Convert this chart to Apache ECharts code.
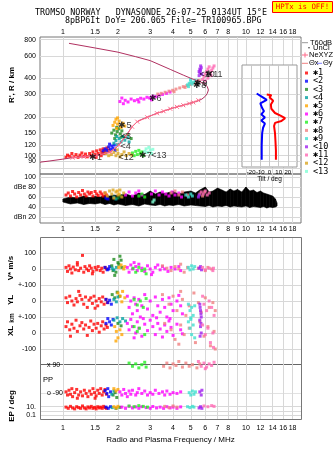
<!DOCTYPE html>
<html>
<head>
<meta charset="utf-8">
<script src="https://cdn.jsdelivr.net/npm/echarts@6/dist/echarts.min.js"></script>
<style>html,body{margin:0;padding:0;background:#fff}#chart{width:335px;height:451px}</style>
</head>
<body>
<div id="chart"></div>
<script>
const lg = Math.log10;

// axis ticks
const FREQ_LABELS = [1, 1.5, 2, 3, 4, 5, 6, 7, 8, 10, 12, 14, 16, 18];
const FREQ_LABELS_MID = [1, 1.5, 2, 3, 4, 5, 6, 7, 8, 9, 10, 12, 14, 16, 18];
const HEIGHT_TICKS = [80, 90, 100, 120, 150, 200, 300, 400, 600, 800];
const AMP_TICKS = [20, 40, 60, 80, 100];
const AMP_LABELS = ['dBn 20', '40', '60', 'dBe 80', '100'];
const DRIFT_TICKS = [-100, 0, 100, 200, 300, 400, 500];
const DRIFT_LABELS = ['-100', '0', '+-100', '0', '+-100', '0', '100'];
const TILT_TICKS = [-20, -10, 0, 10, 20];

// echo clusters
const NAMES = ['✱1', '<2', '<3', '<4', '✱5', '✱6', '✱7', '✱8', '✱9', '<10', '✱11', '<12', '<13'];
const COLORS = ['#ff0000', '#0000ff', '#1e8b1e', '#00a0a0', '#ffa500', '#ff00ff', '#22ee22',
  '#f08080', '#40e0d0', '#a020f0', '#ff69b4', '#daa520', '#7fffd4'];

// model trace (MHz, km) and NeXYZ profile
const modelTrace = [[0.75,89],[0.85,91],[1.0,94],[1.13,96.5],[1.3,98],[1.5,100],[1.7,104],[1.82,107],[1.95,115],
  [2.02,121],[2.1,130],[2.2,141],[2.3,155],[2.39,168],[2.55,184],[2.7,192],[2.89,199],[3.1,208],[3.27,214],
  [3.55,222],[3.86,232],[4.2,240],[4.55,247],[4.9,255],[5.16,260],[5.5,268],[5.75,276],[6.0,290],[6.15,305],
  [6.24,325],[6.15,345],[6.0,358],[5.8,368],[5.6,378],[5.16,393],[4.55,424],[3.86,470],[3.0,550],[2.5,590],
  [2.0,640],[1.5,690],[1.08,750]];
const neXYZ = [[1.13,96.5],[1.3,98],[1.51,99.5],[1.82,107],[2.02,121],[2.2,141],[2.39,168],[2.55,184],[2.89,199],
  [3.27,214],[3.55,222],[3.86,232],[4.2,240],[4.55,247],[4.9,255],[5.16,260],[5.5,270]];

// tilt inset [deg, km]
const thetaX = [[-3,300],[2,296],[0,285],[4,268],[1.5,250],[2,232],[6,215],[12,205],[17,196],[13,186],[6,180],
  [5,170],[6,150],[6.5,130],[7,110],[7,93]];
const thetaY = [[-14,305],[-9,290],[-3,272],[-10,255],[-8,235],[-6,222],[-9,210],[-5,198],[-9,188],[-5,178],
  [-7,165],[-8,150],[-8.5,120],[-8.5,93]];

// noise band (dB)
const noiseFreq = [1.0,1.1,1.2,1.3,1.4,1.5,1.6,1.7,1.8,1.9,2.0,2.2,2.4,2.6,2.8,3.0,3.2,3.4,3.6,3.8,4.0,4.3,4.6,5.0,
  5.3,5.6,6.0,6.3,6.6,7.0,7.4,7.8,8.2,8.6,9.0,9.5,10,10.5,11,11.5,12,12.5,13,13.5,14,14.5,14.8];
const noiseLow = [50,46,48,45,47,46,48,45,47,44,46,43,45,42,46,44,43,45,42,44,43,45,42,44,43,42,41,43,40,42,41,43,
  40,42,41,40,42,39,41,40,39,41,38,40,39,40,42];
const noiseHigh = [56,60,58,62,59,61,60,63,62,64,63,66,62,68,65,72,66,70,67,69,71,66,70,72,68,74,80,70,72,78,74,70,
  76,72,75,70,80,72,74,69,72,68,66,64,62,56,48];

// [MHz, km, cluster]
const heightPts = [
  [1.04,97,1],[1.06,101,1],[1.09,99,1],[1.12,104,1],[1.15,98,1],[1.18,102,1],[1.21,97,1],[1.24,101,1],[1.27,105,1],
  [1.3,99,1],[1.33,103,1],[1.36,98,1],[1.4,104,1],[1.43,100,1],[1.46,107,1],[1.5,102,1],[1.53,109,1],[1.56,104,1],
  [1.6,111,1],[1.63,106,1],[1.66,113,1],[1.7,108,1],[1.74,115,1],[1.78,110,1],[1.52,97,1],[1.62,100,1],[1.68,104,1],
  [1.66,109,2],[1.7,113,2],[1.74,110,2],[1.78,117,2],[1.82,112,2],[1.85,119,2],[1.88,114,2],[1.91,121,2],[1.8,123,2],[1.93,110,2],
  [1.85,150,3],[1.9,158,3],[1.94,145,3],[1.98,154,3],[2.02,162,3],[2.06,148,3],[2.1,156,3],[2.16,141,3],[2.25,146,3],
  [2.36,136,3],[1.97,166,3],[2.08,139,3],[1.92,136,3],
  [1.9,125,4],[1.95,131,4],[1.99,122,4],[2.03,136,4],[2.08,128,4],[2.13,141,4],[2.18,132,4],[2.26,138,4],[1.97,141,4],[2.3,128,4],
  [1.88,172,5],[1.92,182,5],[1.95,192,5],[1.99,176,5],[2.03,186,5],[2.08,166,5],[2.13,179,5],[1.99,197,5],[1.97,163,5],[2.18,170,5],
  [2.05,264,6],[2.1,281,6],[2.14,254,6],[2.19,270,6],[2.27,262,6],[2.36,276,6],[2.46,268,6],[2.56,273,6],[2.66,280,6],
  [2.77,276,6],[2.88,285,6],[2.98,281,6],[3.1,290,6],[3.22,288,6],[3.35,296,6],[3.5,300,6],[3.68,306,6],[3.85,313,6],
  [2.6,262,6],[3.05,272,6],
  [2.4,105,7],[2.45,100,7],[2.5,108,7],[2.55,102,7],[2.6,110,7],[2.65,104,7],[2.7,107,7],[2.75,100,7],
  [3.3,302,8],[3.45,306,8],[3.62,312,8],[3.8,318,8],[3.98,323,8],[4.15,330,8],[4.35,337,8],[4.55,345,8],[4.75,351,8],
  [4.95,358,8],[5.15,366,8],[5.35,374,8],[5.55,385,8],[4.05,315,8],[4.65,340,8],
  [4.8,356,9],[4.9,366,9],[5.0,376,9],[5.08,361,9],[5.18,372,9],[5.28,386,9],[4.98,392,9],[4.86,345,9],
  [5.55,420,10],[5.6,442,10],[5.65,462,10],[5.7,484,10],[5.6,472,10],[5.55,452,10],[5.74,432,10],[5.66,500,10],
  [5.8,392,11],[5.9,412,11],[6.0,432,11],[6.1,452,11],[6.2,472,11],[6.3,492,11],[6.4,442,11],[6.5,462,11],
  [6.6,482,11],[6.2,402,11],[6.0,382,11],[6.7,500,11],[6.45,420,11],
  [1.72,104,12],[1.78,100,12],[1.84,102,12],[1.9,106,12],[1.95,100,12],[2.0,104,12],[2.05,98,12],[2.1,102,12],
  [2.16,107,12],[2.22,100,12],[2.3,104,12],[2.38,101,12],[1.98,111,12],
  [2.8,108,13],[2.85,113,13],[2.9,106,13],[2.95,116,13],[3.0,110,13],[3.05,104,13],[3.1,112,13]
];

// [MHz, dB, cluster]
const ampPts = [
  [1.04,64,1],[1.07,68,1],[1.1,62,1],[1.13,71,1],[1.16,66,1],[1.19,60,1],[1.22,69,1],[1.25,64,1],[1.28,73,1],
  [1.31,66,1],[1.34,62,1],[1.37,70,1],[1.4,66,1],[1.43,69,1],[1.46,62,1],[1.5,71,1],[1.53,66,1],[1.56,63,1],
  [1.6,70,1],[1.63,66,1],[1.66,62,1],[1.7,68,1],[1.73,64,1],
  [1.72,58,2],[1.76,56,2],
  [2.0,58,3],[2.06,62,3],
  [1.95,56,4],[1.9,60,4],
  [1.98,72,5],[2.03,66,5],
  [2.2,64,6],[2.3,70,6],[2.4,62,6],[2.5,68,6],[2.6,72,6],[2.7,64,6],[3.05,66,6],[3.2,72,6],[3.35,64,6],[3.5,70,6],
  [3.65,66,6],[3.8,62,6],[3.95,70,6],[4.1,64,6],[4.3,68,6],[4.45,60,6],
  [2.6,62,7],[2.7,66,7],[2.8,60,7],
  [3.9,68,8],[4.1,72,8],[4.3,64,8],[4.5,70,8],[4.8,64,8],[5.6,66,8],[5.8,62,8],[5.95,70,8],
  [4.7,64,9],[4.85,60,9],[5.0,66,9],[5.1,62,9],
  [5.5,60,10],[5.55,64,10],
  [5.7,70,11],[5.85,66,11],[6.0,72,11],[6.15,64,11],[6.3,68,11],
  [1.7,68,12],[1.75,62,12],[1.8,72,12],[1.85,66,12],[1.9,58,12],[1.95,70,12],[2.0,64,12],[2.05,74,12],[2.1,60,12],
  [2.15,68,12],[1.88,74,12],
  [3.1,50,13],[3.15,54,13]
];

// [MHz, m/s, cluster]
const vstarPts = [
  [1.04,10,1],[1.06,-15,1],[1.08,20,1],[1.1,0,1],[1.12,-25,1],[1.14,12,1],[1.17,-5,1],[1.2,25,1],[1.22,-10,1],
  [1.25,5,1],[1.28,85,1],[1.3,-20,1],[1.32,15,1],[1.35,0,1],[1.38,-10,1],[1.4,20,1],[1.43,5,1],[1.46,-15,1],
  [1.5,10,1],[1.53,-5,1],[1.56,15,1],[1.6,-10,1],[1.63,5,1],[1.66,-20,1],[1.7,10,1],[1.73,0,1],[1.2,40,1],[1.45,-30,1],
  [1.7,10,2],[1.75,-5,2],[1.8,15,2],[1.78,0,2],
  [1.85,20,3],[1.9,60,3],[1.95,-20,3],[2.0,40,3],[2.05,80,3],[2.1,10,3],[1.92,-40,3],[2.02,30,3],[2.08,55,3],[1.88,-10,3],
  [1.86,5,4],[1.9,-5,4],[1.96,10,4],
  [2.02,10,5],[2.08,25,5],[2.15,0,5],[2.18,15,5],
  [2.25,10,6],[2.3,-20,6],[2.35,25,6],[2.4,0,6],[2.5,15,6],[2.55,-10,6],[2.6,30,6],[2.7,5,6],[2.8,-15,6],[2.9,20,6],
  [3.0,0,6],[3.1,-20,6],[3.2,10,6],[3.3,25,6],[3.4,-5,6],[3.5,15,6],[3.6,0,6],[3.75,-15,6],[3.9,10,6],[4.1,0,6],
  [4.3,15,6],[4.4,-10,6],[2.45,40,6],[3.05,-35,6],
  [2.42,5,7],[2.5,-20,7],[2.6,10,7],[2.7,-10,7],[2.8,0,7],[2.85,-30,7],
  [3.5,20,8],[3.7,5,8],[3.9,-10,8],[4.1,15,8],[4.3,0,8],[4.6,-20,8],[4.8,10,8],[5.5,5,8],[6.0,-10,8],[6.2,10,8],
  [6.5,0,8],[4.4,30,8],
  [4.85,10,9],[4.95,-5,9],[5.05,20,9],[5.15,0,9],[5.25,15,9],
  [5.55,5,10],[5.65,15,10],[5.72,-5,10],
  [5.8,10,11],[6.0,-5,11],[6.3,5,11],[6.6,-10,11],[6.65,5,11]
];

// [MHz, km, cluster]
const ylPts = [
  [1.04,20,1],[1.06,-10,1],[1.09,30,1],[1.12,0,1],[1.15,-25,1],[1.18,15,1],[1.2,-5,1],[1.24,35,1],[1.27,10,1],
  [1.3,-20,1],[1.33,25,1],[1.36,-40,1],[1.39,5,1],[1.42,20,1],[1.45,-15,1],[1.48,30,1],[1.52,0,1],[1.55,-30,1],
  [1.58,15,1],[1.62,-5,1],[1.65,25,1],[1.68,-20,1],[1.72,10,1],[1.75,-10,1],[1.22,60,1],[1.5,-45,1],
  [1.72,10,2],[1.76,-10,2],[1.8,5,2],[1.84,-20,2],
  [1.86,40,3],[1.92,20,3],[1.98,55,3],[2.04,30,3],
  [1.9,10,4],[1.96,-5,4],[2.0,25,4],
  [2.0,50,5],[2.06,30,5],[2.12,60,5],[2.18,20,5],[2.1,-5,5],
  [2.25,30,6],[2.3,-40,6],[2.35,0,6],[2.4,-80,6],[2.45,20,6],[2.5,-20,6],[2.55,-60,6],[2.6,10,6],[2.65,-100,6],
  [2.7,-30,6],[2.8,40,6],[2.9,-50,6],[3.0,0,6],[3.1,-90,6],[3.2,25,6],[3.3,-30,6],[3.4,-70,6],[3.5,10,6],
  [3.6,-40,6],[3.7,-100,6],[3.8,20,6],[3.9,-20,6],[4.0,-60,6],[4.2,0,6],[4.4,-30,6],[4.5,-80,6],[4.3,35,6],
  [2.75,-110,6],[3.25,-105,6],[3.85,-110,6],
  [2.45,10,7],[2.55,-25,7],[2.65,0,7],[2.75,-40,7],[2.85,15,7],
  [3.5,40,8],[3.8,-20,8],[4.0,30,8],[4.2,-60,8],[4.5,10,8],[4.7,-90,8],[4.9,-30,8],[5.2,50,8],[5.5,-10,8],
  [5.7,-70,8],[6.0,20,8],[6.3,-40,8],[6.6,-10,8],[6.8,-60,8],[4.4,60,8],
  [4.85,-20,9],[4.95,-60,9],[5.05,-40,9],[5.15,-90,9],[5.25,-30,9],[5.0,-105,9],
  [5.6,-20,10],[5.65,-60,10],[5.7,-100,10],[5.62,-40,10],[5.68,-80,10],
  [5.8,30,11],[5.9,-20,11],[6.1,-60,11],[6.3,0,11],[6.5,-40,11],[6.7,-90,11]
];

// [MHz, km, cluster]
const xlPts = [
  [1.04,40,1],[1.06,70,1],[1.09,20,1],[1.12,55,1],[1.15,30,1],[1.18,80,1],[1.2,10,1],[1.24,45,1],[1.27,65,1],
  [1.3,25,1],[1.33,50,1],[1.36,-15,1],[1.39,35,1],[1.42,75,1],[1.45,15,1],[1.48,55,1],[1.52,30,1],[1.55,60,1],
  [1.58,5,1],[1.62,45,1],[1.65,70,1],[1.68,25,1],[1.72,50,1],[1.75,35,1],[1.1,-20,1],
  [1.72,60,2],[1.76,90,2],[1.8,70,2],[1.84,50,2],[1.88,85,2],
  [2.0,60,3],[2.08,45,3],
  [1.9,80,4],[1.98,95,4],[2.05,70,4],[2.12,90,4],[2.2,75,4],
  [1.92,40,5],[1.96,10,5],[2.0,-30,5],[2.05,20,5],[2.1,-10,5],[1.95,-50,5],
  [2.25,60,6],[2.3,20,6],[2.35,85,6],[2.4,40,6],[2.5,0,6],[2.55,70,6],[2.6,30,6],[2.7,-20,6],[2.8,55,6],[2.9,15,6],
  [3.0,80,6],[3.1,40,6],[3.2,-10,6],[3.3,60,6],[3.4,25,6],[3.5,-25,6],[3.6,50,6],[3.7,10,6],[3.8,75,6],[3.9,35,6],
  [4.0,-15,6],[4.2,55,6],[4.4,20,6],[4.5,-5,6],[2.45,-30,6],
  [2.45,40,7],[2.55,10,7],[2.62,30,7],[2.8,-10,7],
  [3.6,60,8],[3.9,20,8],[4.1,-40,8],[4.4,50,8],[4.6,-10,8],[4.9,30,8],[5.3,-60,8],[5.6,70,8],[5.9,-20,8],
  [6.2,40,8],[6.4,-80,8],[6.7,10,8],[6.8,-100,8],[4.3,-70,8],
  [4.85,70,9],[4.95,30,9],[5.05,-10,9],[5.15,50,9],[5.25,-30,9],[5.0,85,9],
  [5.6,80,10],[5.65,40,10],[5.7,0,10],[5.62,-20,10],[5.68,60,10],
  [5.8,50,11],[6.0,-10,11],[6.2,30,11],[6.4,-60,11],[6.6,0,11],[6.65,-90,11]
];

// [MHz, deg, cluster]
const ppPts = [
  [1.04,-80,1],[1.06,-100,1],[1.08,-70,1],[1.1,-95,1],[1.13,-110,1],[1.16,-85,1],[1.19,-65,1],[1.22,-100,1],
  [1.25,-80,1],[1.28,-105,1],[1.31,-70,1],[1.34,-90,1],[1.37,-110,1],[1.4,-75,1],[1.43,-95,1],[1.46,-60,1],
  [1.49,-85,1],[1.52,-105,1],[1.55,-70,1],[1.58,-90,1],[1.61,-60,1],[1.64,-100,1],[1.67,-80,1],[1.7,-65,1],
  [1.73,-95,1],[1.2,-120,1],[1.5,-120,1],[1.12,-60,1],
  [1.7,-72,2],[1.74,-90,2],[1.78,-110,2],[1.82,-80,2],[1.76,-60,2],
  [1.88,-100,3],[1.93,-85,3],[1.97,-115,3],
  [1.85,-95,4],[1.9,-75,4],
  [1.9,-60,5],[1.95,-75,5],[2.0,-65,5],
  [2.05,-80,6],[2.1,-100,6],[2.15,-65,6],[2.2,-90,6],[2.25,-110,6],[2.3,-75,6],[2.35,-95,6],[2.4,-70,6],
  [2.5,-100,6],[2.55,-85,6],[2.6,-60,6],[2.7,-90,6],[2.8,-75,6],[2.9,-100,6],[3.0,-85,6],[3.1,-95,6],[3.2,-70,6],
  [3.35,-90,6],[3.5,-80,6],[3.6,-100,6],[3.7,-75,6],[3.85,-95,6],[4.0,-85,6],[4.2,-90,6],[4.4,-80,6],
  [2.3,100,7],[2.4,80,7],[2.5,95,7],[2.6,70,7],[2.7,90,7],[2.8,105,7],[2.85,75,7],
  [3.55,80,8],[3.7,100,8],[3.85,70,8],[4.0,95,8],[4.15,85,8],[4.3,110,8],[4.5,75,8],[4.7,100,8],[4.9,80,8],
  [5.1,90,8],[5.4,70,8],[5.6,95,8],
  [4.9,-85,9],[5.0,-100,9],[5.1,-75,9],[5.2,-95,9],[5.3,-80,9],
  [5.6,-80,10],[5.7,-100,10],[5.75,-70,10],
  [5.5,110,11],[5.7,80,11],[5.9,100,11],[6.1,75,11],[6.3,95,11],[6.5,85,11],[6.7,105,11],[6.0,65,11]
];

// [MHz, deg, cluster]
const epPts = [
  [1.04,8,1],[1.07,4,1],[1.1,12,1],[1.13,5,1],[1.16,3,1],[1.19,10,1],[1.22,6,1],[1.25,4,1],[1.28,15,1],[1.31,5,1],
  [1.34,3,1],[1.37,9,1],[1.4,5,1],[1.43,12,1],[1.46,4,1],[1.49,7,1],[1.52,3,1],[1.55,10,1],[1.58,5,1],[1.61,8,1],
  [1.64,4,1],[1.67,12,1],[1.7,6,1],[1.73,4,1],
  [1.72,8,2],[1.77,4,2],[1.82,10,2],
  [1.95,4,3],[2.05,7,3],
  [1.86,6,4],
  [1.9,10,5],[1.96,5,5],[2.0,12,5],
  [2.1,8,6],[2.2,4,6],[2.3,12,6],[2.4,5,6],[2.5,9,6],[2.6,4,6],[2.7,10,6],[2.85,6,6],[3.0,4,6],[3.1,11,6],
  [3.25,5,6],[3.4,8,6],[3.55,4,6],[3.7,10,6],[3.85,5,6],[4.0,8,6],[4.2,4,6],[4.4,9,6],
  [2.3,15,7],[2.45,10,7],[2.6,18,7],[2.75,12,7],[2.9,8,7],
  [3.6,12,8],[3.8,6,8],[4.0,15,8],[4.2,8,8],
  [4.8,10,9],[4.95,6,9],[5.1,12,9],[5.2,8,9],
  [5.55,5,10],[5.65,10,10],[5.75,4,10],
  [5.9,15,11],[6.2,10,11],[6.5,18,11],[6.7,12,11]
];

// cluster tags drawn in the height panel [text, MHz, km]
const clusterTags = [['✱1',1.38,96],['<12',2.0,97],['<4',2.05,118],['<3',2.06,141],['✱5',2.0,171],['✱6',2.92,281],
  ['✱7',2.58,100],['<13',3.02,100],['✱8',5.12,352],['✱9',5.2,364],['<10',5.55,428],['✱11',5.95,428]];

const GRID_C = '#d8d8d8';
const FRAME_C = '#777';
const FONT = 'Liberation Sans';

const chart = echarts.init(document.getElementById('chart'), null, { renderer: 'canvas' });

function fmtFreq(v) { return String(Math.round(Math.pow(10, v) * 10) / 10); }

function freqAxis(gi, extra) {
  return Object.assign({
    type: 'value', gridIndex: gi, min: lg(0.75), max: lg(20),
    axisLine: { show: false },
    axisTick: { show: false, customValues: FREQ_LABELS_MID.map(lg) },
    splitLine: { show: true, lineStyle: { color: GRID_C, width: 1 } },
    axisLabel: { show: false }
  }, extra || {});
}
function freqLabels(list, margin) {
  return { show: true, customValues: list.map(lg), formatter: fmtFreq, fontSize: 7, color: '#000', margin: margin };
}
function yAxisBase(gi, min, max, ticks, extra) {
  return Object.assign({
    type: 'value', gridIndex: gi, min: min, max: max,
    axisLine: { show: false },
    axisTick: { show: false, customValues: ticks },
    splitLine: { show: true, lineStyle: { color: GRID_C, width: 1 } }
  }, extra || {});
}

const xAxes = [
  freqAxis(0, { position: 'top', axisLabel: freqLabels(FREQ_LABELS, 1) }),
  freqAxis(1, { axisLabel: freqLabels(FREQ_LABELS_MID, 3) }),
  freqAxis(2),
  freqAxis(3),
  freqAxis(4, { axisLabel: freqLabels(FREQ_LABELS, 6), name: 'Radio and Plasma Frequency / MHz',
    nameLocation: 'middle', nameGap: 17, nameTextStyle: { fontSize: 8, color: '#000' } }),
  { type: 'value', gridIndex: 5, min: -30, max: 30, z: 4,
    axisLine: { show: false }, axisTick: { show: false, customValues: TILT_TICKS },
    splitLine: { lineStyle: { color: '#c8c8c8' } },
    axisLabel: { customValues: TILT_TICKS, fontSize: 6, margin: 2, color: '#000' },
    name: 'Tilt / deg', nameLocation: 'middle', nameGap: 9, nameTextStyle: { fontSize: 6.5, color: '#000' } }
];

const yAxes = [
  yAxisBase(0, lg(72), lg(840), HEIGHT_TICKS.map(lg), {
    axisLabel: { customValues: HEIGHT_TICKS.map(lg), formatter: v => String(Math.round(Math.pow(10, v))),
      fontSize: 7, color: '#000', margin: 4 } }),
  yAxisBase(1, 8, 106, AMP_TICKS, {
    axisLabel: { customValues: AMP_TICKS, formatter: v => AMP_LABELS[AMP_TICKS.indexOf(v)],
      fontSize: 7, color: '#000', margin: 4 } }),
  yAxisBase(2, -150, 600, DRIFT_TICKS, {
    axisLabel: { customValues: DRIFT_TICKS, formatter: v => DRIFT_LABELS[DRIFT_TICKS.indexOf(v)],
      fontSize: 7, color: '#000', margin: 4 } }),
  yAxisBase(3, -131, 138, [-90, 90], {
    splitLine: { show: true, lineStyle: { color: ['#e2e2e2', '#666'], width: 1 } },
    axisLabel: { inside: true, customValues: [-90, 90], formatter: v => (v > 0 ? 'x 90' : 'o -90'),
      fontSize: 7, color: '#000', margin: 7 } }),
  yAxisBase(4, -1.964, 2.614, [-1, 0, 1], {
    axisLabel: { customValues: [-1, 1], formatter: v => (v > 0 ? '10.' : '0.1'), fontSize: 7, color: '#000', margin: 4 } }),
  yAxisBase(5, 1.912, 2.706, HEIGHT_TICKS.map(lg), { z: 4, axisLabel: { show: false },
    splitLine: { lineStyle: { color: GRID_C } } })
];

const series = [];

// noise floor band: black polygon between the low and high noise levels
series.push({
  name: 'noise', type: 'custom', xAxisIndex: 1, yAxisIndex: 1, z: 1, silent: true,
  data: noiseFreq.slice(1).map((f, i) => [lg(noiseFreq[i]), noiseLow[i], noiseHigh[i], lg(f), noiseLow[i + 1], noiseHigh[i + 1]]),
  encode: { x: [0, 3], y: [1, 2, 4, 5] },
  renderItem: function (params, api) {
    const a = api.coord([api.value(0), api.value(2)]);
    const b = api.coord([api.value(3), api.value(5)]);
    const c = api.coord([api.value(3), api.value(4)]);
    const d = api.coord([api.value(0), api.value(1)]);
    return { type: 'polygon', shape: { points: [a, b, c, d] }, style: { fill: '#000', stroke: '#000', lineWidth: 0.6 } };
  }
});

const panels = [
  { pts: heightPts, ax: 0, y: v => lg(v) },
  { pts: ampPts, ax: 1, y: v => v },
  { pts: vstarPts, ax: 2, y: v => v + 400 },
  { pts: ylPts, ax: 2, y: v => v + 200 },
  { pts: xlPts, ax: 2, y: v => v },
  { pts: ppPts, ax: 3, y: v => v },
  { pts: epPts, ax: 4, y: v => lg(v) }
];
panels.forEach(function (p) {
  NAMES.forEach(function (name, i) {
    const d = p.pts.filter(r => r[2] === i + 1).map(r => [lg(r[0]), p.y(r[1])]);
    if (!d.length) return;
    series.push({ name: name, type: 'scatter', xAxisIndex: p.ax, yAxisIndex: p.ax, symbol: 'rect',
      symbolSize: 3, itemStyle: { color: COLORS[i] }, data: d, z: 3, silent: true });
  });
});

series.push({ name: 'trace', type: 'line', xAxisIndex: 0, yAxisIndex: 0, symbol: 'none',
  lineStyle: { color: '#b03060', width: 1 }, data: modelTrace.map(r => [lg(r[0]), lg(r[1])]), z: 4, silent: true });
series.push({ name: 'NeXYZ', type: 'line', xAxisIndex: 0, yAxisIndex: 0, symbol: 'path://M0,0L4,4M4,0L0,4',
  symbolSize: 4, itemStyle: { color: 'none', borderColor: '#ff6a8a', borderWidth: 1 },
  lineStyle: { color: '#ff6a8a', width: 1 }, data: neXYZ.map(r => [lg(r[0]), lg(r[1])]), z: 5, silent: true });
series.push({ name: 'tags', type: 'scatter', xAxisIndex: 0, yAxisIndex: 0, symbolSize: 1,
  itemStyle: { color: 'rgba(0,0,0,0)' },
  label: { show: true, position: 'right', distance: 0, formatter: p => p.data[2], color: '#000', fontSize: 9, fontFamily: FONT },
  data: clusterTags.map(t => [lg(t[1]), lg(t[2]), t[0]]), z: 6, silent: true });

series.push({ name: 'thetaX', type: 'line', xAxisIndex: 5, yAxisIndex: 5, symbol: 'none',
  lineStyle: { color: '#ff0000', width: 2 }, data: thetaX.map(r => [r[0], lg(r[1])]), z: 6, silent: true });
series.push({ name: 'thetaY', type: 'line', xAxisIndex: 5, yAxisIndex: 5, symbol: 'none',
  lineStyle: { color: '#0000ff', width: 2 }, data: thetaY.map(r => [r[0], lg(r[1])]), z: 6, silent: true });

function vtext(text, x, y, size) {
  return { type: 'text', x: x, y: y, rotation: Math.PI / 2, z: 20,
    style: { text: text, fill: '#000', font: 'bold ' + size + 'px "Liberation Sans"', align: 'center', verticalAlign: 'middle' } };
}
function htext(text, x, y, font, fill, align) {
  return { type: 'text', x: x, y: y, z: 20,
    style: { text: text, fill: fill || '#000', font: font, align: align || 'left', verticalAlign: 'middle' } };
}
function seg(x1, x2, y, color) {
  return { type: 'line', z: 20, shape: { x1: x1, y1: y, x2: x2, y2: y }, style: { stroke: color, lineWidth: 1 } };
}

const MONO = '"DejaVu Sans Mono"';
const graphics = [
  htext('TROMSO NORWAY   DYNASONDE 26-07-25 0134UT 15°E', 35, 12.5, '8.4px ' + MONO),
  htext('8pBP6It DoY= 206.065 File= TR100965.BPG', 65, 20.5, '8.4px ' + MONO),
  { type: 'rect', z: 20, shape: { x: 272.5, y: 1.5, width: 60, height: 11 }, style: { fill: '#ffff00', stroke: '#ff0000', lineWidth: 1 } },
  htext('HPTx is OFF!', 302.5, 7.3, '7.4px ' + MONO, '#ff0000', 'center'),
  vtext("R', R / km", 12, 85, 8),
  vtext('V* m/s', 11, 268, 8),
  vtext('YL', 11, 300, 8),
  vtext('km', 12, 318, 6.5),
  vtext('XL', 11, 331, 8),
  vtext('EP / deg', 12, 406, 8),
  htext('PP', 43, 380, '7.5px "Liberation Sans"'),
  { type: 'rect', z: 20, shape: { x: 40.5, y: 237.5, width: 261, height: 182 }, style: { fill: 'none', stroke: FRAME_C, lineWidth: 1 } },
  seg(302, 308, 42.7, '#999'),
  htext('T60dB', 310, 42.7, '7.5px "Liberation Sans"'),
  { type: 'circle', z: 20, shape: { cx: 309, cy: 47.7, r: 0.8 }, style: { fill: '#333' } },
  htext('UnCl', 313, 47.7, '7.5px "Liberation Sans"'),
  seg(302, 308, 55, '#ff6a8a'),
  { type: 'line', z: 20, shape: { x1: 305, y1: 52.5, x2: 305, y2: 57.5 }, style: { stroke: '#ff6a8a', lineWidth: 1 } },
  htext('NeXYZ', 309, 55, '7.5px "Liberation Sans"'),
  seg(302, 308, 63.3, '#f08080'),
  htext('Θx', 309, 63.3, '7.5px "Liberation Sans"'),
  seg(317, 322, 63.3, '#8080ff'),
  htext('Θy', 323, 63.3, '7.5px "Liberation Sans"')
];

chart.setOption({
  animation: false,
  backgroundColor: '#fff',
  textStyle: { fontFamily: FONT },
  grid: [
    { left: 40, top: 37, width: 261, height: 137, show: true, borderColor: FRAME_C, borderWidth: 1 },
    { left: 40, top: 174, width: 261, height: 49, show: true, borderColor: FRAME_C, borderWidth: 1 },
    { left: 40, top: 237, width: 261, height: 120 },
    { left: 40, top: 357, width: 261, height: 43 },
    { left: 40, top: 400, width: 261, height: 19 },
    { left: 242, top: 65, width: 55, height: 102, show: true, backgroundColor: '#fff', borderColor: '#999', borderWidth: 1, z: 3 }
  ],
  xAxis: xAxes,
  yAxis: yAxes,
  legend: {
    data: NAMES, orient: 'vertical', left: 305, top: 68.5, padding: 0, itemGap: -0.8,
    itemWidth: 3, itemHeight: 3, icon: 'rect', selectedMode: false,
    textStyle: { fontSize: 8.5, lineHeight: 8.3, fontFamily: 'DejaVu Sans Mono', color: '#000' }
  },
  graphic: { elements: graphics },
  series: series
});
</script>
</body>
</html>
